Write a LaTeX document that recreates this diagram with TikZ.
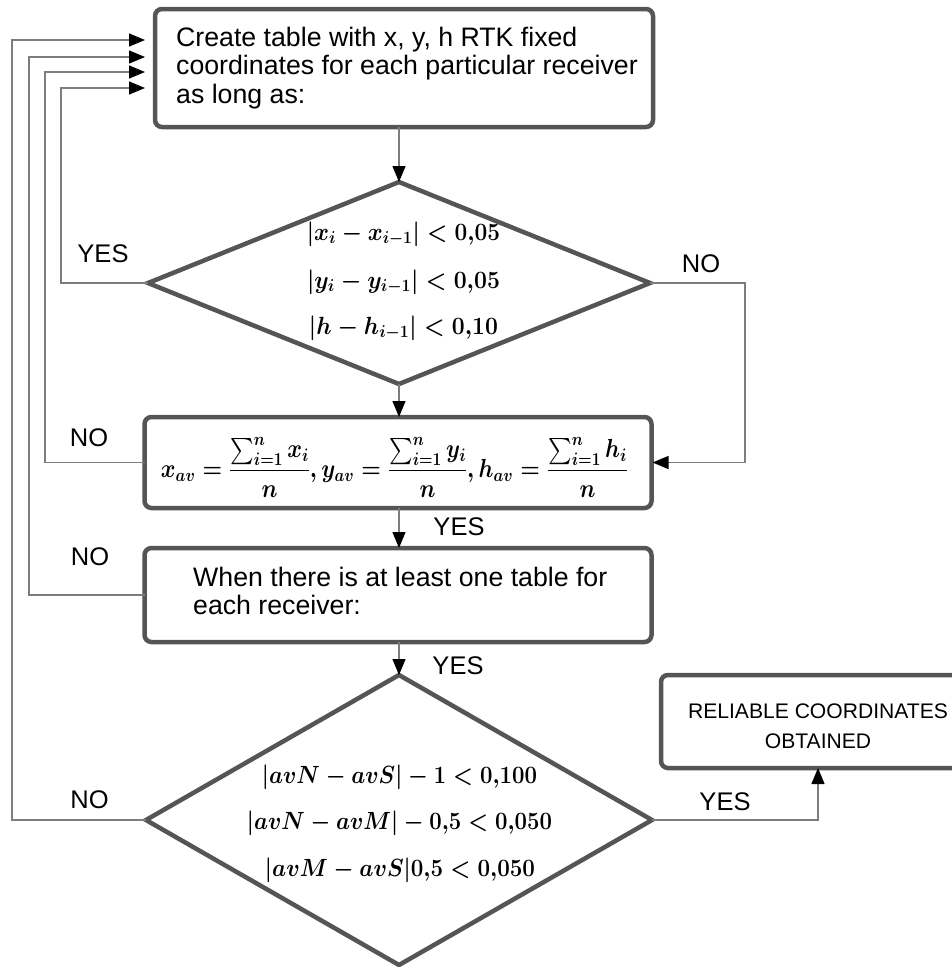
\documentclass[tikz,border=0pt]{standalone}
\usepackage{amsmath}
\usepackage{graphicx}
\usepackage{fontspec}
\setmainfont{Liberation Sans}
\usetikzlibrary{arrows.meta,shapes.geometric,calc}
\definecolor{boxc}{RGB}{85,85,85}
\definecolor{linec}{RGB}{125,125,125}
\newcommand{\fitw}[2]{\resizebox{#1}{\height}{#2}}
\begin{document}
\begin{tikzpicture}[x=1pt,y=-1pt,
  box/.style={draw=boxc,line width=4.5pt,rounded corners=7pt,rectangle,inner sep=0pt,outer sep=0pt},
  dia/.style={draw=boxc,line width=4.5pt,diamond,inner sep=0pt,outer sep=0pt},
  conn/.style={draw=linec,line width=1.3pt,-{Triangle[length=16pt,width=13pt,color=black,fill=black]}},
  lab/.style={font=\fontsize{25.5}{28}\selectfont,inner sep=0pt},
  txt/.style={font=\fontsize{26.7}{28.5}\selectfont,inner sep=0pt,anchor=west,align=left},
  mth/.style={font=\fontsize{23}{26}\selectfont\boldmath,inner sep=0pt},
  mthb/.style={font=\fontsize{24}{27}\selectfont\boldmath,inner sep=0pt},
]
\useasboundingbox (0,0) rectangle (951,967);

% boxes
\node[box,minimum width=498pt,minimum height=118pt] (top) at (404,68) {};
\node[txt] (toptext) at (176,67.6) {Create table with x, y, h RTK fixed\\coordinates for each particular receiver\\as long as:};

\node[dia,minimum width=502pt,minimum height=202pt] (D1) at (399,283) {};
\node[mth] (d1a) at (403.5,234) {\fitw{193pt}{$\lvert x_i-x_{i-1}\rvert<0{,}05$}};
\node[mth] (d1b) at (403.5,282) {\fitw{193pt}{$\lvert y_i-y_{i-1}\rvert<0{,}05$}};
\node[mth] (d1c) at (403.5,328) {\fitw{189pt}{$\lvert h-h_{i-1}\rvert<0{,}10$}};

\node[box,minimum width=507pt,minimum height=91pt] (F) at (398,462.5) {};
\node[inner sep=0pt,font=\fontsize{24}{27}\selectfont\boldmath] (ftext) at (394.5,467) {\resizebox*{467pt}{60pt}{$x_{av}=\dfrac{\sum_{i=1}^{n}x_i}{n},y_{av}=\dfrac{\sum_{i=1}^{n}y_i}{n},h_{av}=\dfrac{\sum_{i=1}^{n}h_i}{n}$}};

\node[box,minimum width=507pt,minimum height=94pt] (S) at (398,595) {};
\node[txt] (stext) at (193,590.75) {When there is at least one table for\\each receiver:};

\node[dia,minimum width=506pt,minimum height=290pt] (D2) at (399,820) {};
\node[mthb] (d2a) at (399.5,777) {\fitw{275pt}{$\lvert avN-avS\rvert-1<0{,}100$}};
\node[mthb] (d2b) at (399.5,823) {\fitw{305pt}{$\lvert avN-avM\rvert-0{,}5<0{,}050$}};
\node[mthb] (d2c) at (400,870) {\fitw{270pt}{$\lvert avM-avS\rvert 0{,}5<0{,}050$}};

\node[box,minimum width=314pt,minimum height=93pt] (R) at (818,721.5) {};
\node[inner sep=0pt,align=center,font=\fontsize{21.1}{30}\selectfont] (rtext) at (818,726) {RELIABLE COORDINATES\\OBTAINED};

% helper x positions for the return loops
\coordinate (xa) at (61,0);
\coordinate (xb) at (45,0);
\coordinate (xc) at (29,0);
\coordinate (xd) at (12,0);
\coordinate (xe) at (745,0);

% main flow
\draw[conn] (top.south -| D1.north) -- (D1.north);
\draw[conn] (D1.south) -- (D1.south |- F.north);
\draw[conn] (F.south -| D1.south) -- (S.north -| D1.south);
\draw[conn] (S.south -| D1.south) -- (D2.north);
\draw[conn,shorten >=1pt] (D1.east) -- (D1.east -| xe) |- (F.east);
\draw[conn] (D2.east) -| (R.south);

% return loops
\draw[conn,shorten >=10pt] (D1.west) -- (D1.west -| xa) |- ([yshift=-20pt]top.west);
\draw[conn,shorten >=10pt] (F.west) -- (F.west -| xb) |- ([yshift=-4pt]top.west);
\draw[conn,shorten >=10pt] (S.west) -- (S.west -| xc) |- ([yshift=11pt]top.west);
\draw[conn,shorten >=10pt] (D2.west) -- (D2.west -| xd) |- ([yshift=28pt]top.west);

% labels
\node[lab] (l1) at (103,254) {YES};
\node[lab] (l2) at (701,264) {NO};
\node[lab] (l3) at (89,438) {NO};
\node[lab] (l4) at (459,527) {YES};
\node[lab] (l5) at (90,557) {NO};
\node[lab] (l6) at (458,666) {YES};
\node[lab] (l7) at (89.5,800) {NO};
\node[lab] (l8) at (725,802) {YES};
\end{tikzpicture}
\end{document}
